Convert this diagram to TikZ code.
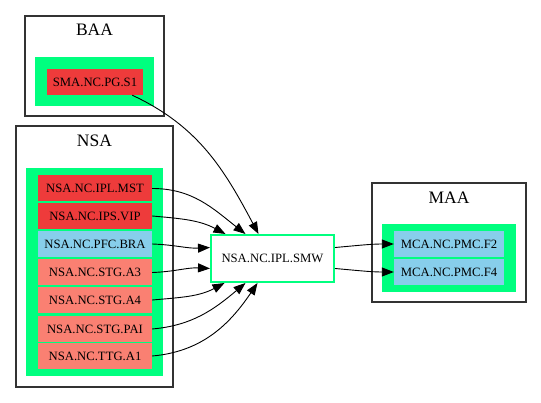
\documentclass[tikz,border=0pt]{standalone}
\usepackage{fontspec}
\setmainfont{Liberation Serif}
\usetikzlibrary{arrows.meta}
\definecolor{sgreen}{HTML}{00FF7F}
\definecolor{redfill}{HTML}{EE3B3B}
\definecolor{salmonfill}{HTML}{FA8072}
\definecolor{skyfill}{HTML}{87CEEB}
\definecolor{frame}{HTML}{333333}
\tikzset{
  cluster/.style={draw=frame, line width=1.1pt, fill=white},
  inner/.style={fill=sgreen},
  clabel/.style={font=\fontsize{17.5}{20}\selectfont, inner sep=0pt},
  item/.style={inner sep=0pt, minimum height=26pt, font=\fontsize{12.7}{14}\selectfont},
  reditem/.style={item, fill=redfill},
  salitem/.style={item, fill=salmonfill},
  skyitem/.style={item, fill=skyfill},
  hub/.style={draw=sgreen, line width=2pt, fill=white, inner sep=0pt,
    minimum width=123pt, minimum height=47pt, font=\fontsize{12.7}{14}\selectfont},
  link/.style={line width=0.9pt, -{Triangle[length=12pt,width=9pt]}}
}
\begin{document}
\begin{tikzpicture}[x=1pt,y=1pt]
\useasboundingbox (0,0) rectangle (541,-403);

% cluster BAA
\draw[cluster] (25,-16) rectangle (164,-116);
\fill[inner] (35,-57) rectangle (154,-106);
\node[clabel] (baa) at (94.5,-30) {BAA};
\node[reditem, minimum width=96pt] (sma) at (95,-82) {SMA.NC.PG.S1};

% cluster NSA
\draw[cluster] (16,-126) rectangle (173,-387);
\fill[inner] (26,-168) rectangle (163,-376);
\node[clabel] (nsa) at (94.5,-141) {NSA};
\node[reditem, minimum width=114pt] (mst) at (95,-188.5) {NSA.NC.IPL.MST};
\node[reditem, minimum width=114pt] (vip) at (95,-216) {NSA.NC.IPS.VIP};
\node[skyitem, minimum width=114pt] (bra) at (95,-244) {NSA.NC.PFC.BRA};
\node[salitem, minimum width=114pt] (a3) at (95,-272.5) {NSA.NC.STG.A3};
\node[salitem, minimum width=114pt] (a4) at (95,-300) {NSA.NC.STG.A4};
\node[salitem, minimum width=114pt] (pai) at (95,-329) {NSA.NC.STG.PAI};
\node[salitem, minimum width=114pt] (a1) at (95,-356) {NSA.NC.TTG.A1};

% cluster MAA
\draw[cluster] (372,-183) rectangle (526,-302);
\fill[inner] (382,-224) rectangle (516,-292);
\node[clabel] (maa) at (449,-198) {MAA};
\node[skyitem, minimum width=110pt] (f2) at (449,-244) {MCA.NC.PMC.F2};
\node[skyitem, minimum width=110pt] (f4) at (449,-272) {MCA.NC.PMC.F4};

% central node
\node[hub] (smw) at (272.5,-258.5) {NSA.NC.IPL.SMW};

% connectors into the central node
\draw[link] ([xshift=-11pt]sma.south east) to[out=-25,in=118] ([xshift=-14pt]smw.north);
\draw[link] (mst.east) to[out=0,in=142] ([xshift=-27pt]smw.north);
\draw[link] (vip.east) to[out=-5,in=152] ([xshift=-47pt]smw.north);
\draw[link] (bra.east) to[out=-2,in=183] ([yshift=11pt]smw.west);
\draw[link] (a3.east) to[out=2,in=177] ([yshift=-10pt]smw.west);
\draw[link] (a4.east) to[out=5,in=208] ([xshift=-48pt]smw.south);
\draw[link] (pai.east) to[out=5,in=220] ([xshift=-27pt]smw.south);
\draw[link] (a1.east) to[out=5,in=236] ([xshift=-15pt]smw.south);

% connectors out of the central node
\draw[link] ([yshift=11pt]smw.east) to[out=5,in=180] (f2.west);
\draw[link] ([yshift=-10pt]smw.east) to[out=-5,in=180] (f4.west);
\end{tikzpicture}
\end{document}
